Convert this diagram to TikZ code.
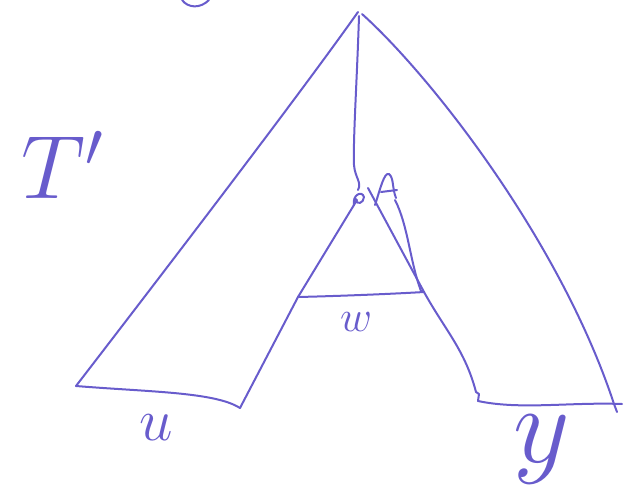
\documentclass[tikz,border=0pt]{standalone}
\usepackage{fix-cm}
\usetikzlibrary{positioning}
\definecolor{pen}{RGB}{104,92,204}
\tikzset{
  stroke/.style={draw=pen, line width=2pt, line cap=round, line join=round},
  handtxt/.style={text=pen, inner sep=0pt}
}

\begin{document}
\begin{tikzpicture}[x=1pt, y=-1pt]
    \useasboundingbox (0,0) rectangle (629,498);
    % corners of the big tent
    \coordinate (apex) at (358,12);
    \coordinate (botL) at (76,386);
    \coordinate (botLi) at (240,408);
    \coordinate (triL) at (298,297);
    \coordinate (triR) at (424,292);
    \coordinate (triT) at (357,200);
    \coordinate (botRi) at (478,401);
    \coordinate (botR) at (614,404);
    % outer sides
    \draw[stroke] (apex) .. controls (310,80) and (200,225) .. (botL);
    \draw[stroke] (362,14) .. controls (430,75) and (560,240) .. (botR) -- (617,412);
    % bottom left piece
    \draw[stroke] (botL) .. controls (150,392) and (215,392) .. (botLi);
    \draw[stroke] (botLi) -- (triL);
    % inner triangle w
    \draw[stroke] (triL) -- (triT);
    \draw[stroke] (triL) .. controls (340,296) and (390,294) .. (triR);
    \draw[stroke] (368,188) -- (triR);
    \draw[stroke] (395,200) .. controls (408,225) and (410,262) .. (421,291);
    % inner right side down to y
    \draw[stroke] (triR) .. controls (445,330) and (465,350) .. (476,392)
        -- (479,394) -- (botRi);
    \draw[stroke] (botRi) .. controls (520,410) and (570,402) .. (622,404);
    % line from the apex down to w
    \draw[stroke] (359,16) .. controls (357,80) and (353,140) .. (354,165)
        .. controls (355,178) and (362,182) .. (358,190);
    % small scribble on top of w
    \draw[stroke] (354,205) .. controls (352,195) and (362,190) .. (364,197)
        .. controls (364,203) and (356,206) .. (356,199);
    \draw[stroke] (375,205) .. controls (380,190) and (384,172) .. (389,174)
        .. controls (394,178) and (392,188) .. (396,198);
    \draw[stroke] (381,192) -- (397,190);
    % mark at the top edge
    \draw[stroke] (182,0) .. controls (188,8) and (200,9) .. (209,0);
    % labels
    \node[handtxt] (lblT) at (62,165) {\fontsize{90}{100}\selectfont $T'$};
    \node[handtxt] (lblu) at (156,428) {\fontsize{60}{70}\selectfont $u$};
    \node[handtxt] (lblw) at (356,322) {\fontsize{44}{50}\selectfont $w$};
    \node[handtxt] (lbly) at (542,450) {\fontsize{110}{120}\selectfont $y$};
\end{tikzpicture}
\end{document}
